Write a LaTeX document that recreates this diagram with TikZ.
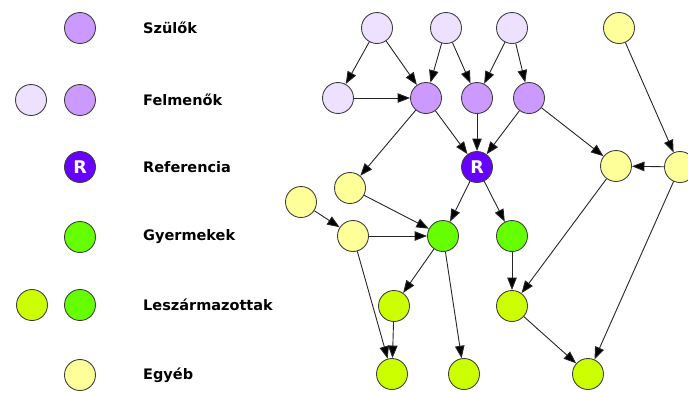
\documentclass[tikz,border=0pt]{standalone}
\usepackage{fontspec}
\setmainfont{DejaVu Sans}
\usetikzlibrary{arrows.meta}
\definecolor{cLav}{HTML}{EEE0FF}
\definecolor{cPur}{HTML}{CC99FF}
\definecolor{cRef}{HTML}{6600FF}
\definecolor{cGrn}{HTML}{66FF00}
\definecolor{cLim}{HTML}{CCFF00}
\definecolor{cYel}{HTML}{FFFF99}
\tikzset{
  pn/.style={circle, minimum size=31pt, inner sep=0pt, draw=black!75, line width=0.9pt},
  lav/.style={pn, fill=cLav},
  pur/.style={pn, fill=cPur},
  refn/.style={pn, fill=cRef, text=white, font=\bfseries\fontsize{17.5}{17.5}\selectfont},
  grn/.style={pn, fill=cGrn},
  lim/.style={pn, fill=cLim},
  yel/.style={pn, fill=cYel},
  lbl/.style={anchor=west, inner sep=0pt, font=\bfseries\fontsize{14.5}{17}\selectfont},
  ed/.style={draw=black!85, line width=0.9pt, -{Triangle[length=12.5pt,width=9.5pt,fill=black]}}
}
\begin{document}
\begin{tikzpicture}[x=1pt,y=-1pt]
\useasboundingbox (0,0) rectangle (688,392);
\clip (0,0) rectangle (688,392);
% legend
\node[pur] (ls) at (80,28) {};
\node[lbl] (tls) at (143,28) {Szülők};
\node[lav] (lf1) at (31,100) {};
\node[pur] (lf2) at (80,100) {};
\node[lbl] (tlf) at (143,100) {Felmenők};
\node[refn] (lr) at (80,167) {R};
\node[lbl] (tlr) at (143,167) {Referencia};
\node[grn] (lg) at (80,237) {};
\node[lbl] (tlg) at (143,237) {Gyermekek};
\node[lim] (ld1) at (32,305) {};
\node[grn] (ld2) at (80,305) {};
\node[lbl] (tld) at (143,305) {Leszármazottak};
\node[yel] (ly) at (80,375) {};
\node[lbl] (tly) at (143,375) {Egyéb};
% graph
\node[lav] (t1) at (377,28) {};
\node[lav] (t2) at (446,28) {};
\node[lav] (t3) at (512,28) {};
\node[yel] (yt) at (619,28) {};
\node[lav] (l1) at (338,98) {};
\node[pur] (p1) at (426,98) {};
\node[pur] (p2) at (477,98) {};
\node[pur] (p3) at (529,98) {};
\node[refn] (r) at (477,167) {R};
\node[yel] (y5) at (616,166) {};
\node[yel] (yr) at (680,167) {};
\node[yel] (y1) at (350,188) {};
\node[yel] (y0) at (301,202) {};
\node[yel] (y2) at (353,236) {};
\node[grn] (g1) at (443,236) {};
\node[grn] (g2) at (512,236) {};
\node[lim] (d1) at (394,306) {};
\node[lim] (d4) at (512,306) {};
\node[lim] (d2) at (392,374) {};
\node[lim] (d3) at (464,374) {};
\node[lim] (d5) at (588,374) {};
% edges
\path[ed] (t1) -- (l1);
\path[ed] (t1) -- (p1);
\path[ed] (t2) -- (p1);
\path[ed] (t2) -- (p2);
\path[ed] (t3) -- (p2);
\path[ed] (t3) -- (p3);
\path[ed] (l1) -- (p1);
\path[ed] (p1) -- (r);
\path[ed] (p2) -- (r);
\path[ed] (p3) -- (r);
\path[ed] (p1) -- (y1);
\path[ed] (p3) -- (y5);
\path[ed] (yt) -- (yr);
\path[ed] (yr) -- (y5);
\path[ed] (y1) -- (g1);
\path[ed] (y0) -- (y2);
\path[ed] (y2) -- (g1);
\path[ed] (r) -- (g1);
\path[ed] (r) -- (g2);
\path[ed] (g1) -- (d1);
\path[ed] (g1) -- (d3);
\path[ed] (y2) -- (d2);
\path[ed] (d1) -- (d2);
\path[ed] (g2) -- (d4);
\path[ed] (y5) -- (d4);
\path[ed] (d4) -- (d5);
\path[ed] (yr) -- (d5);
\end{tikzpicture}
\end{document}
